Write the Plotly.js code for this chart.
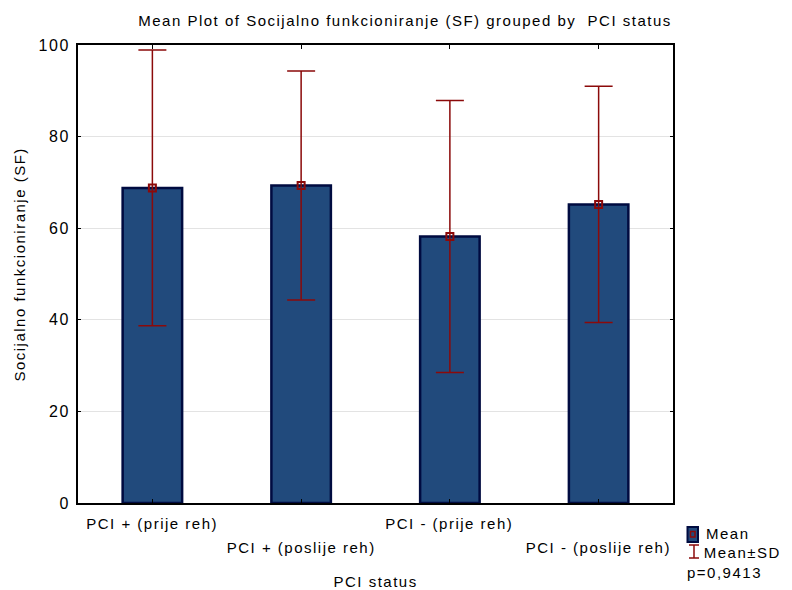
<!DOCTYPE html>
<html>
<head>
<meta charset="utf-8">
<script src="https://cdn.plot.ly/plotly-3.0.1.min.js"></script>
<style>
body{margin:0;padding:0;background:#fff;}
#chart text{letter-spacing:1.5px;}
</style>
</head>
<body>
<div id="chart" style="width:792px;height:590px;"></div>
<script>
const categories = ["PCI + (prije reh)", "PCI + (poslije reh)", "PCI - (prije reh)", "PCI - (poslije reh)"];
const means = [68.8, 69.3, 58.2, 65.2];
const sds = [30.1, 25.0, 29.7, 25.8];
const yTicks = [0, 20, 40, 60, 80, 100];
const chartTitle = "Mean Plot of Socijalno funkcioniranje (SF) grouped by  PCI status";
const xTitle = "PCI status";
const yTitle = "Socijalno funkcioniranje (SF)";
const legendLabels = ["Mean", "Mean±SD"];
const pText = "p=0,9413";

const xIdx = categories.map((c, i) => i);
const FONT = "Liberation Sans, Arial, sans-serif";
const FS = 15;
const barFill = "#214a7c";
const barLine = "#000b40";
const red = "#8b0a0a";

const traces = [
  {
    type: "bar", x: xIdx, y: means, width: 0.4,
    marker: {color: barFill, line: {color: barLine, width: 2.5}},
    hoverinfo: "none", showlegend: false
  },
  {
    type: "scatter", mode: "markers", x: xIdx, y: means,
    marker: {symbol: "square-open", size: 7, color: red, line: {width: 2, color: red}},
    error_y: {type: "data", array: sds, visible: true, color: red, thickness: 1.5, width: 14},
    hoverinfo: "none", showlegend: false
  }
];

const txtFont = {family: FONT, size: FS, color: "#000"};
const annotations = [];
categories.forEach((c, i) => {
  annotations.push({
    xref: "x", yref: "paper", x: i, y: 0, text: c, showarrow: false,
    xanchor: "center", yanchor: "middle", yshift: (i % 2 === 0) ? -20 : -44,
    font: txtFont
  });
});
annotations.push({xref: "paper", yref: "paper", x: 0.5, y: 0, yshift: -78, text: xTitle, showarrow: false,
  xanchor: "center", yanchor: "middle", font: txtFont});
annotations.push({xref: "paper", yref: "paper", x: 0, y: 0.52, xshift: -58, text: yTitle, showarrow: false,
  textangle: -90, xanchor: "center", yanchor: "middle", font: txtFont});
annotations.push({xref: "paper", yref: "paper", x: 0.5, y: 1, xshift: 29, yshift: 25, text: chartTitle, showarrow: false,
  xanchor: "center", yanchor: "middle", font: txtFont});
// legend texts
annotations.push({xref: "paper", yref: "paper", x: 1, y: 0, xshift: 34, yshift: -30, text: legendLabels[0], showarrow: false,
  xanchor: "left", yanchor: "middle", font: txtFont});
annotations.push({xref: "paper", yref: "paper", x: 1, y: 0, xshift: 34, yshift: -49, text: legendLabels[1], showarrow: false,
  xanchor: "left", yanchor: "middle", font: txtFont});
annotations.push({xref: "paper", yref: "paper", x: 1, y: 0, xshift: 18, yshift: -69, text: pText, showarrow: false,
  xanchor: "left", yanchor: "middle", font: txtFont});

const W = 595, H = 458; // plot area size in px for legend icon placement
const px = v => 1 + v / W;
const py = v => -v / H;
const shapes = [
  {type: "rect", xref: "paper", yref: "paper", x0: px(14.5), x1: px(25), y0: py(24), y1: py(39),
    fillcolor: barFill, line: {color: barLine, width: 2}},
  {type: "rect", xref: "paper", yref: "paper", x0: px(17.5), x1: px(22), y0: py(28.5), y1: py(34),
    fillcolor: "rgba(0,0,0,0)", line: {color: red, width: 1.5}},
  {type: "line", xref: "paper", yref: "paper", x0: px(21), x1: px(21), y0: py(42), y1: py(55),
    line: {color: red, width: 1.5}},
  {type: "line", xref: "paper", yref: "paper", x0: px(16), x1: px(26), y0: py(42), y1: py(42),
    line: {color: red, width: 1.5}},
  {type: "line", xref: "paper", yref: "paper", x0: px(16), x1: px(26), y0: py(55), y1: py(55),
    line: {color: red, width: 1.5}}
];

const layout = {
  width: 792, height: 590,
  margin: {l: 78, r: 119, t: 45, b: 87, pad: 0},
  paper_bgcolor: "#fff", plot_bgcolor: "#fff",
  font: txtFont,
  showlegend: false,
  xaxis: {
    range: [-0.5, 3.5], tickvals: xIdx, showticklabels: false,
    ticks: "inside", ticklen: 4, tickcolor: "#000", mirror: "ticks",
    showline: true, linecolor: "#000", linewidth: 2, showgrid: false, zeroline: false, fixedrange: true
  },
  yaxis: {
    range: [0, 100], tickvals: yTicks, ticktext: yTicks.map(String),
    ticks: "inside", ticklen: 3, tickcolor: "#000", mirror: "ticks",
    showline: true, linecolor: "#000", linewidth: 2,
    showgrid: true, gridcolor: "#e3e3e3", gridwidth: 1, zeroline: false,
    tickfont: {family: FONT, size: 16, color: "#000"}, ticklabelstandoff: 3, fixedrange: true
  },
  annotations: annotations,
  shapes: shapes
};

Plotly.newPlot("chart", traces, layout, {displayModeBar: false, staticPlot: true});
</script>
</body>
</html>
